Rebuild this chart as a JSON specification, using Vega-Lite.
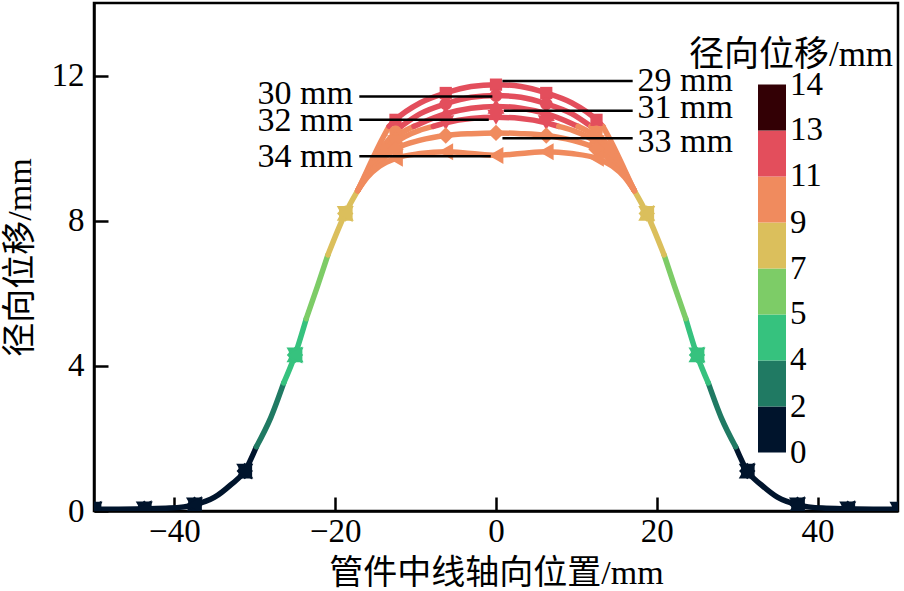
{
  "$schema": "https://vega.github.io/schema/vega-lite/v6.json",
  "width": 804,
  "height": 508,
  "autosize": {"type": "none"},
  "padding": {"left": 94, "top": 3, "right": 6, "bottom": 80},
  "background": "white",
  "config": {
    "view": {"stroke": "black", "strokeWidth": 2.5},
    "axis": {
      "grid": false,
      "domainColor": "black",
      "domainWidth": 2.5,
      "tickColor": "black",
      "tickWidth": 2.5,
      "tickSize": -14,
      "labelFont": "Liberation Serif",
      "labelFontSize": 33,
      "labelColor": "black",
      "titleFont": "Liberation Serif, Noto Sans CJK SC",
      "titleFontSize": 34,
      "titleFontWeight": "normal",
      "titleColor": "black"
    }
  },
  "datasets": {
    "curves": [
      {"s": "L0", "b": 0.9, "x": -50, "y": 0.05},
      {"s": "L0", "b": 0.9, "x": -46.9, "y": 0.05},
      {"s": "L0", "b": 0.9, "x": -43.75, "y": 0.06},
      {"s": "L0", "b": 0.9, "x": -40.6, "y": 0.08},
      {"s": "L0", "b": 0.9, "x": -37.5, "y": 0.17},
      {"s": "L0", "b": 0.9, "x": -35, "y": 0.38},
      {"s": "L0", "b": 0.9, "x": -33, "y": 0.72},
      {"s": "L0", "b": 0.9, "x": -31.25, "y": 1.1},
      {"s": "L0", "b": 0.9, "x": -29.8, "y": 1.77},
      {"s": "L1", "b": 2.6, "x": -29.8, "y": 1.77},
      {"s": "L1", "b": 2.6, "x": -28, "y": 2.58},
      {"s": "L1", "b": 2.6, "x": -26.4, "y": 3.53},
      {"s": "L2", "b": 4.4, "x": -26.4, "y": 3.53},
      {"s": "L2", "b": 4.4, "x": -25, "y": 4.3},
      {"s": "L2", "b": 4.4, "x": -23.6, "y": 5.3},
      {"s": "L3", "b": 6.2, "x": -23.6, "y": 5.3},
      {"s": "L3", "b": 6.2, "x": -22.2, "y": 6.2},
      {"s": "L3", "b": 6.2, "x": -20.9, "y": 7.06},
      {"s": "L4", "b": 7.9, "x": -20.9, "y": 7.06},
      {"s": "L4", "b": 7.9, "x": -18.75, "y": 8.2},
      {"s": "L4", "b": 7.9, "x": -17.2, "y": 8.83},
      {"s": "R0", "b": 0.9, "x": 50, "y": 0.05},
      {"s": "R0", "b": 0.9, "x": 46.9, "y": 0.05},
      {"s": "R0", "b": 0.9, "x": 43.75, "y": 0.06},
      {"s": "R0", "b": 0.9, "x": 40.6, "y": 0.08},
      {"s": "R0", "b": 0.9, "x": 37.5, "y": 0.17},
      {"s": "R0", "b": 0.9, "x": 35, "y": 0.38},
      {"s": "R0", "b": 0.9, "x": 33, "y": 0.72},
      {"s": "R0", "b": 0.9, "x": 31.25, "y": 1.1},
      {"s": "R0", "b": 0.9, "x": 29.8, "y": 1.77},
      {"s": "R1", "b": 2.6, "x": 29.8, "y": 1.77},
      {"s": "R1", "b": 2.6, "x": 28, "y": 2.58},
      {"s": "R1", "b": 2.6, "x": 26.4, "y": 3.53},
      {"s": "R2", "b": 4.4, "x": 26.4, "y": 3.53},
      {"s": "R2", "b": 4.4, "x": 25, "y": 4.3},
      {"s": "R2", "b": 4.4, "x": 23.6, "y": 5.3},
      {"s": "R3", "b": 6.2, "x": 23.6, "y": 5.3},
      {"s": "R3", "b": 6.2, "x": 22.2, "y": 6.2},
      {"s": "R3", "b": 6.2, "x": 20.9, "y": 7.06},
      {"s": "R4", "b": 7.9, "x": 20.9, "y": 7.06},
      {"s": "R4", "b": 7.9, "x": 18.75, "y": 8.2},
      {"s": "R4", "b": 7.9, "x": 17.2, "y": 8.83},

      {"s": "29a", "b": 9.7, "x": -17.2, "y": 8.83},
      {"s": "29a", "b": 9.7, "x": -16, "y": 9.4},
      {"s": "29a", "b": 9.7, "x": -14.5, "y": 10.1},
      {"s": "29a", "b": 9.7, "x": -13.3, "y": 10.6},
      {"s": "29b", "b": 11.5, "x": -13.3, "y": 10.6},
      {"s": "29b", "b": 11.5, "x": -12.5, "y": 10.78},
      {"s": "29b", "b": 11.5, "x": -9.4, "y": 11.25},
      {"s": "29b", "b": 11.5, "x": -6.25, "y": 11.52},
      {"s": "29b", "b": 11.5, "x": -3.1, "y": 11.7},
      {"s": "29b", "b": 11.5, "x": 0, "y": 11.75},
      {"s": "29b", "b": 11.5, "x": 3.1, "y": 11.7},
      {"s": "29b", "b": 11.5, "x": 6.25, "y": 11.52},
      {"s": "29b", "b": 11.5, "x": 9.4, "y": 11.25},
      {"s": "29b", "b": 11.5, "x": 12.5, "y": 10.78},
      {"s": "29b", "b": 11.5, "x": 13.3, "y": 10.6},
      {"s": "29c", "b": 9.7, "x": 13.3, "y": 10.6},
      {"s": "29c", "b": 9.7, "x": 14.5, "y": 10.1},
      {"s": "29c", "b": 9.7, "x": 16, "y": 9.4},
      {"s": "29c", "b": 9.7, "x": 17.2, "y": 8.83},

      {"s": "30a", "b": 9.7, "x": -17.2, "y": 8.83},
      {"s": "30a", "b": 9.7, "x": -16, "y": 9.35},
      {"s": "30a", "b": 9.7, "x": -14.5, "y": 9.9},
      {"s": "30a", "b": 9.7, "x": -12.5, "y": 10.45},
      {"s": "30a", "b": 9.7, "x": -11.8, "y": 10.6},
      {"s": "30b", "b": 11.5, "x": -11.8, "y": 10.6},
      {"s": "30b", "b": 11.5, "x": -9.4, "y": 10.95},
      {"s": "30b", "b": 11.5, "x": -6.25, "y": 11.22},
      {"s": "30b", "b": 11.5, "x": -3.1, "y": 11.4},
      {"s": "30b", "b": 11.5, "x": 0, "y": 11.45},
      {"s": "30b", "b": 11.5, "x": 3.1, "y": 11.4},
      {"s": "30b", "b": 11.5, "x": 6.25, "y": 11.22},
      {"s": "30b", "b": 11.5, "x": 9.4, "y": 10.95},
      {"s": "30b", "b": 11.5, "x": 11.8, "y": 10.6},
      {"s": "30c", "b": 9.7, "x": 11.8, "y": 10.6},
      {"s": "30c", "b": 9.7, "x": 12.5, "y": 10.45},
      {"s": "30c", "b": 9.7, "x": 14.5, "y": 9.9},
      {"s": "30c", "b": 9.7, "x": 16, "y": 9.35},
      {"s": "30c", "b": 9.7, "x": 17.2, "y": 8.83},

      {"s": "31a", "b": 9.7, "x": -17.2, "y": 8.83},
      {"s": "31a", "b": 9.7, "x": -16, "y": 9.3},
      {"s": "31a", "b": 9.7, "x": -14.5, "y": 9.8},
      {"s": "31a", "b": 9.7, "x": -12.5, "y": 10.3},
      {"s": "31a", "b": 9.7, "x": -10.2, "y": 10.6},
      {"s": "31b", "b": 11.5, "x": -10.2, "y": 10.6},
      {"s": "31b", "b": 11.5, "x": -9.4, "y": 10.68},
      {"s": "31b", "b": 11.5, "x": -6.25, "y": 10.95},
      {"s": "31b", "b": 11.5, "x": -3.1, "y": 11.1},
      {"s": "31b", "b": 11.5, "x": 0, "y": 11.15},
      {"s": "31b", "b": 11.5, "x": 3.1, "y": 11.1},
      {"s": "31b", "b": 11.5, "x": 6.25, "y": 10.95},
      {"s": "31b", "b": 11.5, "x": 9.4, "y": 10.68},
      {"s": "31b", "b": 11.5, "x": 10.2, "y": 10.6},
      {"s": "31c", "b": 9.7, "x": 10.2, "y": 10.6},
      {"s": "31c", "b": 9.7, "x": 12.5, "y": 10.3},
      {"s": "31c", "b": 9.7, "x": 14.5, "y": 9.8},
      {"s": "31c", "b": 9.7, "x": 16, "y": 9.3},
      {"s": "31c", "b": 9.7, "x": 17.2, "y": 8.83},

      {"s": "32a", "b": 9.7, "x": -17.2, "y": 8.83},
      {"s": "32a", "b": 9.7, "x": -16, "y": 9.27},
      {"s": "32a", "b": 9.7, "x": -14.5, "y": 9.7},
      {"s": "32a", "b": 9.7, "x": -12.5, "y": 10.15},
      {"s": "32a", "b": 9.7, "x": -9.4, "y": 10.5},
      {"s": "32a", "b": 9.7, "x": -7.8, "y": 10.6},
      {"s": "32b", "b": 11.5, "x": -7.8, "y": 10.6},
      {"s": "32b", "b": 11.5, "x": -6.25, "y": 10.7},
      {"s": "32b", "b": 11.5, "x": -3.1, "y": 10.82},
      {"s": "32b", "b": 11.5, "x": 0, "y": 10.85},
      {"s": "32b", "b": 11.5, "x": 3.1, "y": 10.82},
      {"s": "32b", "b": 11.5, "x": 6.25, "y": 10.7},
      {"s": "32b", "b": 11.5, "x": 7.8, "y": 10.6},
      {"s": "32c", "b": 9.7, "x": 7.8, "y": 10.6},
      {"s": "32c", "b": 9.7, "x": 9.4, "y": 10.5},
      {"s": "32c", "b": 9.7, "x": 12.5, "y": 10.15},
      {"s": "32c", "b": 9.7, "x": 14.5, "y": 9.7},
      {"s": "32c", "b": 9.7, "x": 16, "y": 9.27},
      {"s": "32c", "b": 9.7, "x": 17.2, "y": 8.83},

      {"s": "33", "b": 9.7, "x": -17.2, "y": 8.83},
      {"s": "33", "b": 9.7, "x": -16, "y": 9.24},
      {"s": "33", "b": 9.7, "x": -14.5, "y": 9.6},
      {"s": "33", "b": 9.7, "x": -12.5, "y": 9.97},
      {"s": "33", "b": 9.7, "x": -9.4, "y": 10.22},
      {"s": "33", "b": 9.7, "x": -6.25, "y": 10.35},
      {"s": "33", "b": 9.7, "x": -3.1, "y": 10.4},
      {"s": "33", "b": 9.7, "x": 0, "y": 10.42},
      {"s": "33", "b": 9.7, "x": 3.1, "y": 10.4},
      {"s": "33", "b": 9.7, "x": 6.25, "y": 10.35},
      {"s": "33", "b": 9.7, "x": 9.4, "y": 10.22},
      {"s": "33", "b": 9.7, "x": 12.5, "y": 9.97},
      {"s": "33", "b": 9.7, "x": 14.5, "y": 9.6},
      {"s": "33", "b": 9.7, "x": 16, "y": 9.24},
      {"s": "33", "b": 9.7, "x": 17.2, "y": 8.83},

      {"s": "34", "b": 9.7, "x": -17.2, "y": 8.83},
      {"s": "34", "b": 9.7, "x": -16, "y": 9.2},
      {"s": "34", "b": 9.7, "x": -14.5, "y": 9.5},
      {"s": "34", "b": 9.7, "x": -12.5, "y": 9.72},
      {"s": "34", "b": 9.7, "x": -9.4, "y": 9.85},
      {"s": "34", "b": 9.7, "x": -6.25, "y": 9.9},
      {"s": "34", "b": 9.7, "x": -3.1, "y": 9.85},
      {"s": "34", "b": 9.7, "x": 0, "y": 9.8},
      {"s": "34", "b": 9.7, "x": 3.1, "y": 9.85},
      {"s": "34", "b": 9.7, "x": 6.25, "y": 9.9},
      {"s": "34", "b": 9.7, "x": 9.4, "y": 9.85},
      {"s": "34", "b": 9.7, "x": 12.5, "y": 9.72},
      {"s": "34", "b": 9.7, "x": 14.5, "y": 9.5},
      {"s": "34", "b": 9.7, "x": 16, "y": 9.2},
      {"s": "34", "b": 9.7, "x": 17.2, "y": 8.83}
    ],
    "pts": [
      {"c": "29", "x": -50, "y": 0.05}, {"c": "29", "x": -43.75, "y": 0.06}, {"c": "29", "x": -37.5, "y": 0.17},
      {"c": "29", "x": -31.25, "y": 1.1}, {"c": "29", "x": -25, "y": 4.3}, {"c": "29", "x": -18.75, "y": 8.2},
      {"c": "29", "x": -12.5, "y": 10.78}, {"c": "29", "x": -6.25, "y": 11.52}, {"c": "29", "x": 0, "y": 11.75},
      {"c": "29", "x": 6.25, "y": 11.52}, {"c": "29", "x": 12.5, "y": 10.78}, {"c": "29", "x": 18.75, "y": 8.2},
      {"c": "29", "x": 25, "y": 4.3}, {"c": "29", "x": 31.25, "y": 1.1}, {"c": "29", "x": 37.5, "y": 0.17},
      {"c": "29", "x": 43.75, "y": 0.06}, {"c": "29", "x": 50, "y": 0.05},

      {"c": "30", "x": -50, "y": 0.05}, {"c": "30", "x": -43.75, "y": 0.06}, {"c": "30", "x": -37.5, "y": 0.17},
      {"c": "30", "x": -31.25, "y": 1.1}, {"c": "30", "x": -25, "y": 4.3}, {"c": "30", "x": -18.75, "y": 8.2},
      {"c": "30", "x": -12.5, "y": 10.45}, {"c": "30", "x": -6.25, "y": 11.22}, {"c": "30", "x": 0, "y": 11.45},
      {"c": "30", "x": 6.25, "y": 11.22}, {"c": "30", "x": 12.5, "y": 10.45}, {"c": "30", "x": 18.75, "y": 8.2},
      {"c": "30", "x": 25, "y": 4.3}, {"c": "30", "x": 31.25, "y": 1.1}, {"c": "30", "x": 37.5, "y": 0.17},
      {"c": "30", "x": 43.75, "y": 0.06}, {"c": "30", "x": 50, "y": 0.05},

      {"c": "31", "x": -50, "y": 0.05}, {"c": "31", "x": -43.75, "y": 0.06}, {"c": "31", "x": -37.5, "y": 0.17},
      {"c": "31", "x": -31.25, "y": 1.1}, {"c": "31", "x": -25, "y": 4.3}, {"c": "31", "x": -18.75, "y": 8.2},
      {"c": "31", "x": -12.5, "y": 10.3}, {"c": "31", "x": -6.25, "y": 10.95}, {"c": "31", "x": 0, "y": 11.15},
      {"c": "31", "x": 6.25, "y": 10.95}, {"c": "31", "x": 12.5, "y": 10.3}, {"c": "31", "x": 18.75, "y": 8.2},
      {"c": "31", "x": 25, "y": 4.3}, {"c": "31", "x": 31.25, "y": 1.1}, {"c": "31", "x": 37.5, "y": 0.17},
      {"c": "31", "x": 43.75, "y": 0.06}, {"c": "31", "x": 50, "y": 0.05},

      {"c": "32", "x": -50, "y": 0.05}, {"c": "32", "x": -43.75, "y": 0.06}, {"c": "32", "x": -37.5, "y": 0.17},
      {"c": "32", "x": -31.25, "y": 1.1}, {"c": "32", "x": -25, "y": 4.3}, {"c": "32", "x": -18.75, "y": 8.2},
      {"c": "32", "x": -12.5, "y": 10.15}, {"c": "32", "x": -6.25, "y": 10.7}, {"c": "32", "x": 0, "y": 10.85},
      {"c": "32", "x": 6.25, "y": 10.7}, {"c": "32", "x": 12.5, "y": 10.15}, {"c": "32", "x": 18.75, "y": 8.2},
      {"c": "32", "x": 25, "y": 4.3}, {"c": "32", "x": 31.25, "y": 1.1}, {"c": "32", "x": 37.5, "y": 0.17},
      {"c": "32", "x": 43.75, "y": 0.06}, {"c": "32", "x": 50, "y": 0.05},

      {"c": "33", "x": -50, "y": 0.05}, {"c": "33", "x": -43.75, "y": 0.06}, {"c": "33", "x": -37.5, "y": 0.17},
      {"c": "33", "x": -31.25, "y": 1.1}, {"c": "33", "x": -25, "y": 4.3}, {"c": "33", "x": -18.75, "y": 8.2},
      {"c": "33", "x": -12.5, "y": 9.97}, {"c": "33", "x": -6.25, "y": 10.35}, {"c": "33", "x": 0, "y": 10.42},
      {"c": "33", "x": 6.25, "y": 10.35}, {"c": "33", "x": 12.5, "y": 9.97}, {"c": "33", "x": 18.75, "y": 8.2},
      {"c": "33", "x": 25, "y": 4.3}, {"c": "33", "x": 31.25, "y": 1.1}, {"c": "33", "x": 37.5, "y": 0.17},
      {"c": "33", "x": 43.75, "y": 0.06}, {"c": "33", "x": 50, "y": 0.05},

      {"c": "34", "x": -50, "y": 0.05}, {"c": "34", "x": -43.75, "y": 0.06}, {"c": "34", "x": -37.5, "y": 0.17},
      {"c": "34", "x": -31.25, "y": 1.1}, {"c": "34", "x": -25, "y": 4.3}, {"c": "34", "x": -18.75, "y": 8.2},
      {"c": "34", "x": -12.5, "y": 9.72}, {"c": "34", "x": -6.25, "y": 9.9}, {"c": "34", "x": 0, "y": 9.8},
      {"c": "34", "x": 6.25, "y": 9.9}, {"c": "34", "x": 12.5, "y": 9.72}, {"c": "34", "x": 18.75, "y": 8.2},
      {"c": "34", "x": 25, "y": 4.3}, {"c": "34", "x": 31.25, "y": 1.1}, {"c": "34", "x": 37.5, "y": 0.17},
      {"c": "34", "x": 43.75, "y": 0.06}, {"c": "34", "x": 50, "y": 0.05}
    ],
    "ann": [
      {"t": "29 mm", "side": "R", "x1": 0.8, "x2": 17.0, "ly": 11.85, "tx": 17.6, "ty": 11.84},
      {"t": "31 mm", "side": "R", "x1": 1.0, "x2": 17.0, "ly": 11.03, "tx": 17.6, "ty": 11.12},
      {"t": "33 mm", "side": "R", "x1": 0.8, "x2": 17.0, "ly": 10.27, "tx": 17.6, "ty": 10.16},
      {"t": "30 mm", "side": "L", "x1": -17.0, "x2": -0.45, "ly": 11.42, "tx": -17.8, "ty": 11.5},
      {"t": "32 mm", "side": "L", "x1": -17.0, "x2": -0.9, "ly": 10.78, "tx": -17.8, "ty": 10.76},
      {"t": "34 mm", "side": "L", "x1": -17.0, "x2": -0.65, "ly": 9.78, "tx": -17.8, "ty": 9.76}
    ]
  },
  "layer": [
    {
      "data": {"name": "curves"},
      "mark": {"type": "line", "interpolate": "monotone", "strokeWidth": 5.5, "strokeCap": "round", "clip": true},
      "encoding": {
        "x": {
          "field": "x", "type": "quantitative",
          "scale": {"domain": [-50, 50], "nice": false, "zero": false},
          "axis": {"values": [-40, -20, 0, 20, 40], "title": "管件中线轴向位置/mm", "labelPadding": 18, "titlePadding": 8}
        },
        "y": {
          "field": "y", "type": "quantitative",
          "scale": {"domain": [0, 14], "nice": false},
          "axis": {"values": [0, 4, 8, 12], "title": "径向位移/mm", "labelPadding": 24, "titlePadding": 14}
        },
        "detail": {"field": "s", "type": "nominal"},
        "color": {
          "field": "b", "type": "quantitative",
          "scale": {
            "type": "threshold",
            "domain": [0, 1.766, 3.533, 5.299, 7.065, 8.831, 10.598, 12.364, 14.13],
            "range": ["transparent", "#00142c", "#207a63", "#36c27e", "#7dcc67", "#dbbf5c", "#f08b5e", "#e34e5c", "#330005", "transparent"]
          },
          "legend": {
            "type": "gradient", "orient": "none", "legendX": 595, "legendY": 35, "direction": "vertical",
            "title": "径向位移/mm", "titleFont": "Liberation Serif, Noto Sans CJK SC", "titleFontSize": 35,
            "titleFontWeight": "normal", "titleColor": "black", "titleAnchor": "middle", "titleAlign": "center",
            "titlePadding": -34.5, "titleLimit": 400, "padding": 0,
            "gradientLength": 460, "gradientThickness": 28, "gradientStrokeWidth": 0,
            "labelFont": "Liberation Serif", "labelFontSize": 33, "labelColor": "black", "labelOffset": 4,
            "labelOverlap": false,
            "labelExpr": "['0','2','4','5','7','9','11','13','14'][round(datum.value/1.766)]"
          }
        }
      }
    },
    {
      "data": {"name": "pts"},
      "mark": {"type": "point", "filled": true, "opacity": 1, "clip": true},
      "encoding": {
        "x": {"field": "x", "type": "quantitative"},
        "y": {"field": "y", "type": "quantitative"},
        "shape": {
          "field": "c", "type": "nominal",
          "scale": {"domain": ["29", "30", "31", "32", "33", "34"], "range": ["square", "circle", "triangle-up", "triangle-down", "diamond", "triangle-left"]},
          "legend": null
        },
        "size": {
          "field": "c", "type": "nominal",
          "scale": {"type": "ordinal", "domain": ["29", "30", "31", "32", "33", "34"], "range": [150, 160, 290, 290, 270, 290]},
          "legend": null
        },
        "color": {
          "field": "y", "type": "quantitative",
          "scale": {
            "type": "threshold",
            "domain": [0, 1.766, 3.533, 5.299, 7.065, 8.831, 10.598, 12.364, 14.13],
            "range": ["transparent", "#00142c", "#207a63", "#36c27e", "#7dcc67", "#dbbf5c", "#f08b5e", "#e34e5c", "#330005", "transparent"]
          },
          "legend": {
            "type": "gradient", "orient": "none", "legendX": 595, "legendY": 35, "direction": "vertical",
            "title": "径向位移/mm", "titleFont": "Liberation Serif, Noto Sans CJK SC", "titleFontSize": 35,
            "titleFontWeight": "normal", "titleColor": "black", "titleAnchor": "middle", "titleAlign": "center",
            "titlePadding": -34.5, "titleLimit": 400, "padding": 0,
            "gradientLength": 460, "gradientThickness": 28, "gradientStrokeWidth": 0,
            "labelFont": "Liberation Serif", "labelFontSize": 33, "labelColor": "black", "labelOffset": 4,
            "labelOverlap": false,
            "labelExpr": "['0','2','4','5','7','9','11','13','14'][round(datum.value/1.766)]"
          }
        }
      }
    },
    {
      "data": {"name": "ann"},
      "mark": {"type": "rule", "color": "black", "strokeWidth": 2.5},
      "encoding": {
        "x": {"field": "x1", "type": "quantitative"},
        "x2": {"field": "x2"},
        "y": {"field": "ly", "type": "quantitative"}
      }
    },
    {
      "data": {"name": "ann"},
      "transform": [{"filter": "datum.side == 'L'"}],
      "mark": {"type": "text", "align": "right", "baseline": "middle", "font": "Liberation Serif", "fontSize": 34, "color": "black"},
      "encoding": {
        "x": {"field": "tx", "type": "quantitative"},
        "y": {"field": "ty", "type": "quantitative"},
        "text": {"field": "t"}
      }
    },
    {
      "data": {"name": "ann"},
      "transform": [{"filter": "datum.side == 'R'"}],
      "mark": {"type": "text", "align": "left", "baseline": "middle", "font": "Liberation Serif", "fontSize": 34, "color": "black"},
      "encoding": {
        "x": {"field": "tx", "type": "quantitative"},
        "y": {"field": "ty", "type": "quantitative"},
        "text": {"field": "t"}
      }
    }
  ]
}
